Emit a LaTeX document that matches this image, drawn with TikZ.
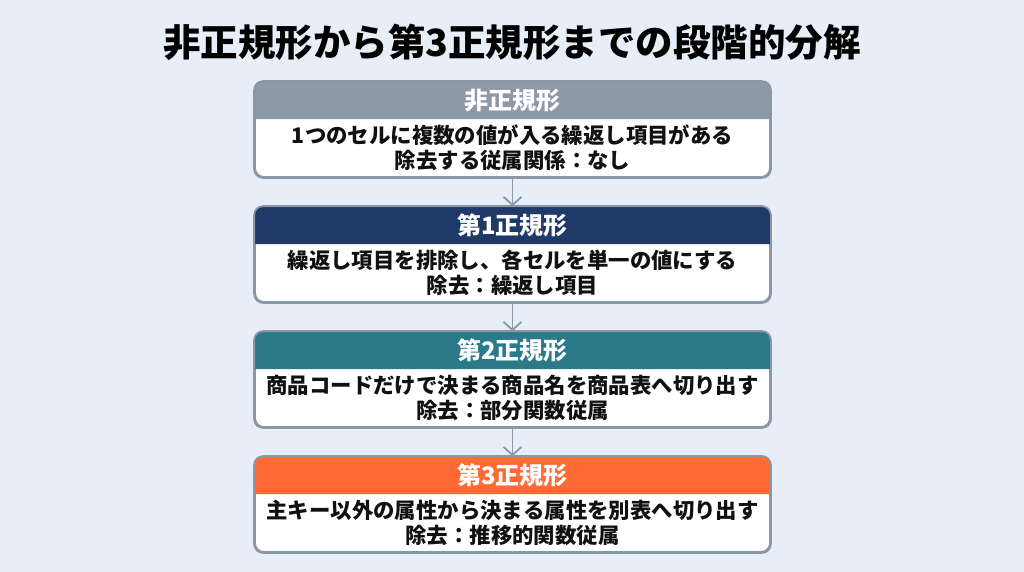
\documentclass[tikz,border=0pt]{standalone}
\usepackage{fontspec}
\setmainfont{Noto Sans CJK JP}
\usetikzlibrary{arrows.meta}
\definecolor{bgc}{HTML}{E8EEF8}
\definecolor{bordc}{HTML}{8C97A6}
\definecolor{hdrA}{HTML}{8E99A6}
\definecolor{hdrB}{HTML}{1F3A68}
\definecolor{hdrC}{HTML}{2B7A8A}
\definecolor{hdrD}{HTML}{FF6A35}
\definecolor{txt}{HTML}{111111}
\tikzset{
  frame/.style={draw=bordc, line width=1.8pt, rounded corners=9pt, fill=white,
    minimum width=515pt, minimum height=95pt, inner sep=0pt},
  hdrtext/.style={text=white, font=\fontsize{24}{28}\selectfont\bfseries},
  bodytext/.style={text=txt, align=center, font=\fontsize{21.4}{25}\selectfont\bfseries},
  flow/.style={draw=bordc, line width=1.8pt, -{Straight Barb[length=8pt,width=18pt,line width=1.8pt]}},
}
\newcommand{\mkbox}[5]{%
  \node[frame] (#1) at (512.5,#2) {};
  \fill[#3] ([yshift=-38pt]#1.north west) [rounded corners=9pt]-- (#1.north west) -- (#1.north east) [sharp corners]-- ([yshift=-38pt]#1.north east) -- cycle;
  \draw[bordc, line width=1.8pt, rounded corners=9pt] (#1.north west) rectangle (#1.south east);
  \node[hdrtext] (#1h) at ([yshift=-19pt]#1.north) {#4};
  \node[bodytext] (#1t) at ([yshift=-66.5pt]#1.north) {#5};
}
\begin{document}
\begin{tikzpicture}[x=1pt,y=-1pt]
\fill[bgc] (0,0) rectangle (1024,572);
\useasboundingbox (0,0) rectangle (1024,572);
\node[font=\fontsize{37.5}{42}\selectfont\bfseries, text=black] (title) at (512,42) {非正規形から第3正規形までの段階的分解};
\mkbox{b1}{129.5}{hdrA}{非正規形}{1つのセルに複数の値が入る繰返し項目がある\\除去する従属関係：なし}
\mkbox{b2}{254.5}{hdrB}{第1正規形}{繰返し項目を排除し、各セルを単一の値にする\\除去：繰返し項目}
\mkbox{b3}{379.5}{hdrC}{第2正規形}{商品コードだけで決まる商品名を商品表へ切り出す\\除去：部分関数従属}
\mkbox{b4}{504.5}{hdrD}{第3正規形}{主キー以外の属性から決まる属性を別表へ切り出す\\除去：推移的関数従属}
\draw[flow] (b1.south) -- (b2.north);
\draw[flow] (b2.south) -- (b3.north);
\draw[flow] (b3.south) -- (b4.north);
\end{tikzpicture}
\end{document}
